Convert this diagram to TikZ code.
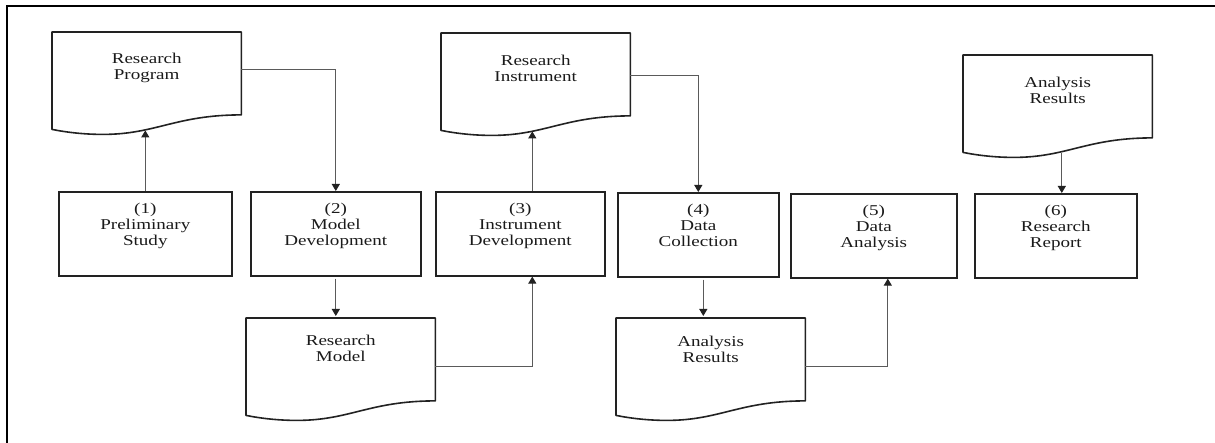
\documentclass[tikz,border=0pt]{standalone}
\usepackage{fontspec}
\setmainfont[FakeStretch=1.27]{Liberation Serif}
\usetikzlibrary{arrows.meta,calc}
\definecolor{boxc}{HTML}{222222}
\definecolor{connc}{HTML}{5A5A5A}
\definecolor{txtc}{HTML}{1A1A1A}
\newcommand\bx[2]{\parbox[t][84pt][t]{#1pt}{\centering\rule{0pt}{22pt}#2}}
\newcommand\dx[2]{\parbox[t][102pt][t]{189pt}{\centering\rule{0pt}{#1pt}#2}}
\newcommand\docoutline[1]{%
  \draw[docline] (#1.north west) -- (#1.north east) -- ([yshift=19.5pt]#1.south east)
    .. controls +(-66,0) and +(53,0) .. ([xshift=51pt]#1.south west)
    .. controls +(-19,0) and +(15,3) .. ([yshift=5pt]#1.south west) -- cycle;}
\tikzset{
  box/.style={draw=boxc, line width=1.6pt, inner sep=0pt, anchor=north west,
    font=\fontsize{15pt}{16pt}\selectfont, text=txtc},
  docn/.style={inner sep=0pt, anchor=north west,
    font=\fontsize{15pt}{16pt}\selectfont, text=txtc},
  docline/.style={draw=boxc, line width=1.6pt, line join=round},
  conn/.style={draw=connc, line width=1.1pt, -{Triangle[width=8pt,length=7pt,color=boxc]}},
  frameline/.style={draw=black, line width=2.5pt}
}
\begin{document}
\begin{tikzpicture}[x=1pt,y=-1pt]
\useasboundingbox (0,0) rectangle (1215,443);
\draw[frameline] (7,443) -- (7,6) -- (1215,6);

% process boxes
\node[box] (b1) at (58,191) {\bx{173}{(1)\\Preliminary\\Study}};
\node[box] (b2) at (250,191) {\bx{170}{(2)\\Model\\Development}};
\node[box] (b3) at (435,191) {\bx{169}{(3)\\Instrument\\Development}};
\node[box] (b4) at (617,192) {\bx{161}{(4)\\Data\\Collection}};
\node[box] (b5) at (790,193) {\bx{166}{(5)\\Data\\Analysis}};
\node[box] (b6) at (974,193) {\bx{162}{(6)\\Research\\Report}};

% documents
\node[docn] (rp) at (52,32) {\dx{31}{Research\\Program}};
\node[docn] (ri) at (441,33) {\dx{32}{Research\\Instrument}};
\node[docn] (ar2) at (963,55) {\dx{32}{Analysis\\Results}};
\node[docn] (rm) at (246,318) {\dx{27}{Research\\Model}};
\node[docn] (ar1) at (616,318) {\dx{28}{Analysis\\Results}};
\docoutline{rp}
\docoutline{ri}
\docoutline{ar2}
\docoutline{rm}
\docoutline{ar1}

% connectors
\draw[conn] (b1.north) -- ($(b1.north |- rp.south)+(0,-4)$);
\draw[conn] ([yshift=14pt]rp.east) -| (b2.north);
\draw[conn, shorten <=2pt, shorten >=2pt] (b2.south) -- (b2.south |- rm.north);
\draw[conn] ([yshift=3pt]rm.east) -| ([xshift=12pt]b3.south);
\draw[conn] ([xshift=12pt]b3.north) -- ($(b3.north |- ri.south)+(12,-4)$);
\draw[conn] ([yshift=9pt]ri.east) -| (b4.north);
\draw[conn, shorten <=2pt, shorten >=2pt] ([xshift=5pt]b4.south) -- ($(b4.south |- ar1.north)+(5,0)$);
\draw[conn] ([yshift=3pt]ar1.east) -| ([xshift=14pt]b5.south);
\draw[conn] ($(b6.north |- ar2.south)+(6,-4.5)$) -- ([xshift=6pt]b6.north);
\end{tikzpicture}
\end{document}
